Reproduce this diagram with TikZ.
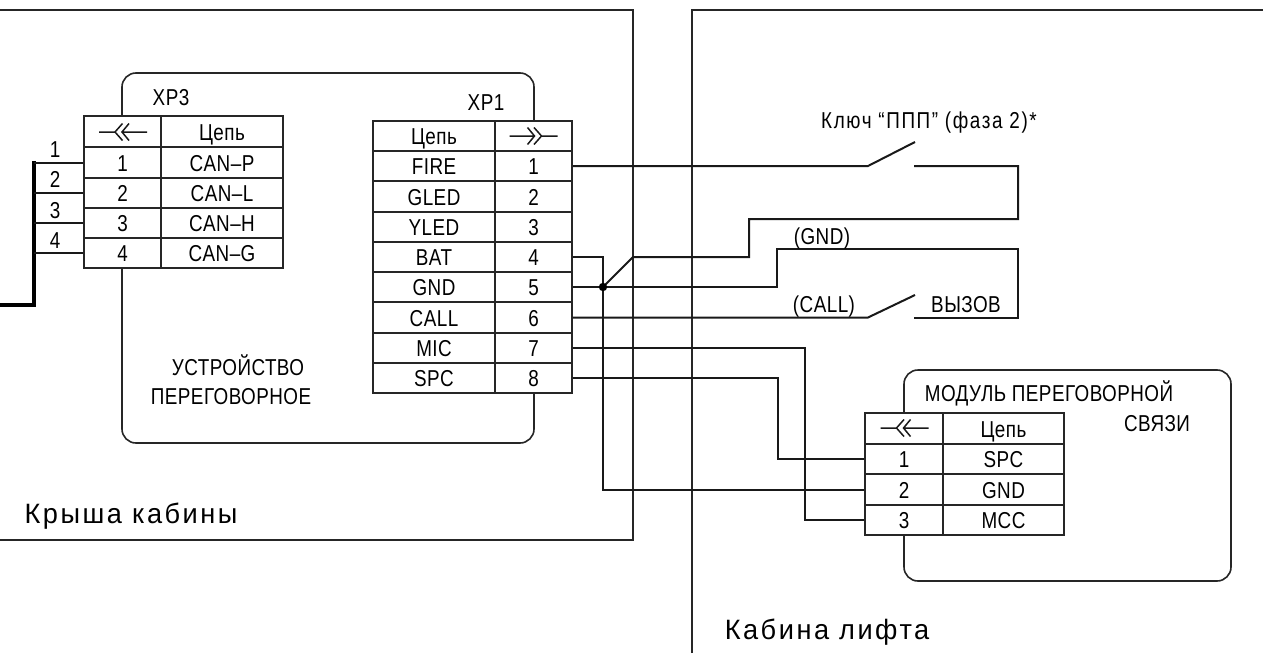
\documentclass[tikz,border=0pt]{standalone}
\usepackage{fontspec}
\setmainfont[FakeStretch=0.82,LetterSpace=2]{Liberation Sans}
\newfontfamily\widefont[FakeStretch=0.97,LetterSpace=9]{Liberation Sans}
\newfontfamily\keyfont[FakeStretch=0.82,LetterSpace=7]{Liberation Sans}
\usetikzlibrary{calc}
\tikzset{
  wire/.style={line width=2pt,black!90,line join=miter},
  frameline/.style={line width=1.6pt,black!85},
  cell/.style={draw=black!85,line width=1.8pt,inner sep=0pt,font=\fontsize{23}{23}\selectfont,text height=17pt,text depth=0pt,align=center},
  label/.style={inner sep=0pt,font=\fontsize{23}{24}\selectfont,text height=17pt,text depth=0pt},
  big/.style={inner sep=0pt,font=\widefont\fontsize{28}{28}\selectfont,text height=20pt,text depth=0pt},
  bus/.style={line width=3.4pt,black},
  chev/.style={line width=1.5pt,black!90},
}
\newcommand{\tcell}[6]{\node[cell,minimum width={(#4-#2)*1pt},minimum height={(#5-#3)*1pt}] (#1) at ({(#2+#4)/2},{(#3+#5)/2}) {#6};}
\newcommand{\conn}[3]{\begin{scope}[shift={(#1,#2)},xscale=#3]
 \draw[chev] (-23.5,0)--(-7.5,0) (0,-8.5)--(-7.5,0)--(0,8.5);
 \draw[chev] (6.5,-8.5)--(-0.5,0)--(6.5,8.5) (-0.5,0)--(24.5,0);
\end{scope}}
\begin{document}
\begin{tikzpicture}[x=1pt,y=-1pt]
\useasboundingbox[fill=white] (0,0) rectangle (1263,653);
% frames
\coordinate (rA) at (0,10); \coordinate (rB) at (633,10); \coordinate (rC) at (633,540); \coordinate (rD) at (0,540);
\draw[frameline] (rA)--(rB)--(rC)--(rD);
\coordinate (cA) at (692,653); \coordinate (cB) at (692,10); \coordinate (cC) at (1263,10);
\draw[frameline] (cA)--(cB)--(cC);
% XP3 table
\tcell{ah}{84}{116}{161}{147}{}
\tcell{an}{161}{116}{283}{147}{Цепь}
\tcell{a1}{84}{147}{161}{178}{1}\tcell{as1}{161}{147}{283}{178}{CAN–P}
\tcell{a2}{84}{178}{161}{208}{2}\tcell{as2}{161}{178}{283}{208}{CAN–L}
\tcell{a3}{84}{208}{161}{238}{3}\tcell{as3}{161}{208}{283}{238}{CAN–H}
\tcell{a4}{84}{238}{161}{268}{4}\tcell{as4}{161}{238}{283}{268}{CAN–G}
\conn{122.5}{132}{1}
% XP1 table
\tcell{bn}{373}{121}{495}{151}{Цепь}\tcell{bh}{495}{121}{572}{151}{}
\tcell{bs1}{373}{151}{495}{181}{FIRE}\tcell{b1}{495}{151}{572}{181}{1}
\tcell{bs2}{373}{181}{495}{212}{GLED}\tcell{b2}{495}{181}{572}{212}{2}
\tcell{bs3}{373}{212}{495}{242}{YLED}\tcell{b3}{495}{212}{572}{242}{3}
\tcell{bs4}{373}{242}{495}{272}{BAT}\tcell{b4}{495}{242}{572}{272}{4}
\tcell{bs5}{373}{272}{495}{302}{GND}\tcell{b5}{495}{272}{572}{302}{5}
\tcell{bs6}{373}{302}{495}{333}{CALL}\tcell{b6}{495}{302}{572}{333}{6}
\tcell{bs7}{373}{333}{495}{363}{MIC}\tcell{b7}{495}{333}{572}{363}{7}
\tcell{bs8}{373}{363}{495}{393}{SPC}\tcell{b8}{495}{363}{572}{393}{8}
\conn{534}{136}{-1}
% module table
\tcell{mh}{865}{413}{943}{444}{}\tcell{mn}{943}{413}{1064}{444}{Цепь}
\tcell{m1}{865}{444}{943}{474}{1}\tcell{ms1}{943}{444}{1064}{474}{SPC}
\tcell{m2}{865}{474}{943}{505}{2}\tcell{ms2}{943}{474}{1064}{505}{GND}
\tcell{m3}{865}{505}{943}{535}{3}\tcell{ms3}{943}{505}{1064}{535}{MCC}
\conn{904}{428}{1}
% rounded device outlines
\draw[frameline,rounded corners=14pt] (122,116) -- (122,73) -- (534,73) -- (534,121);
\draw[frameline,rounded corners=14pt] (122,268) -- (122,443) -- (534,443) -- (534,393);
\draw[frameline,rounded corners=14pt] (904,413) -- (904,370) -- (1231,370) -- (1231,581) -- (904,581) -- (904,535);
% bus
\coordinate (busT) at (34,161); \coordinate (busB) at (34,305); \coordinate (busE) at (0,305);
\draw[bus,line join=miter] (busT)--(busB)--(busE);
\draw[wire] (a1.west) -- (a1.west -| busT);
\draw[wire] (a2.west) -- (a2.west -| busT);
\draw[wire] (a3.west) -- (a3.west -| busT);
\draw[wire] (a4.west) -- (a4.west -| busT);
% wires
\coordinate (jn) at (603,287);
\coordinate (sw1a) at (868,166); \coordinate (sw1b) at (915,142); \coordinate (sw1c) at (914,166); \coordinate (sw1d) at (1018,166); \coordinate (sw1e) at (1018,219); \coordinate (sw1f) at (749,219); \coordinate (sw1g) at (749,257); \coordinate (sw1h) at (633,257);
\draw[wire] (b1.east) -- (sw1a) -- (sw1b);
\draw[wire] (sw1c) -- (sw1d) -- (sw1e) -- (sw1f) -- (sw1g) -- (sw1h) -- (jn);
\draw[wire] (b4.east) -| (jn) |- (m2.west);
\coordinate (g1) at (777,287); \coordinate (g2) at (777,249); \coordinate (g3) at (1018,249); \coordinate (g4) at (1018,318); \coordinate (g5) at (914,318);
\draw[wire] (b5.east) -- (g1) -- (g2) -- (g3) -- (g4) -- (g5);
\coordinate (sw2a) at (868,317.5); \coordinate (sw2b) at (915,295);
\draw[wire] (b6.east) -- (sw2a) -- (sw2b);
\coordinate (mic) at (805,348);
\draw[wire] (b7.east) -- (mic) |- (m3.west);
\coordinate (spc) at (778,378);
\draw[wire] (b8.east) -- (spc) |- (m1.west);
\fill[black] (jn) circle (4.2pt);
% labels
\node[label] (t3) at (171,97) {XP3};
\node[label] (t1) at (486,102) {XP1};
\node[label] (n1) at (55,149) {1};
\node[label] (n2) at (55,179) {2};
\node[label] (n3) at (55,210) {3};
\node[label] (n4) at (55,240) {4};
\node[label] (d1) at (238,367) {УСТРОЙСТВО};
\node[label] (d2) at (231,396) {ПЕРЕГОВОРНОЕ};
\node[label,font=\keyfont\fontsize{23}{24}\selectfont] (key) at (929,120) {Ключ “ППП” (фаза 2)*};
\node[label] (gnd) at (822,236) {(GND)};
\node[label] (call) at (824,304) {(CALL)};
\node[label] (vyz) at (966,304) {ВЫЗОВ};
\node[label] (mod1) at (1049,393) {МОДУЛЬ ПЕРЕГОВОРНОЙ};
\node[label] (mod2) at (1157,423) {СВЯЗИ};
\node[big] (roof) at (131,513) {Крыша кабины};
\node[big] (cab) at (827,629) {Кабина лифта};
\end{tikzpicture}
\end{document}
